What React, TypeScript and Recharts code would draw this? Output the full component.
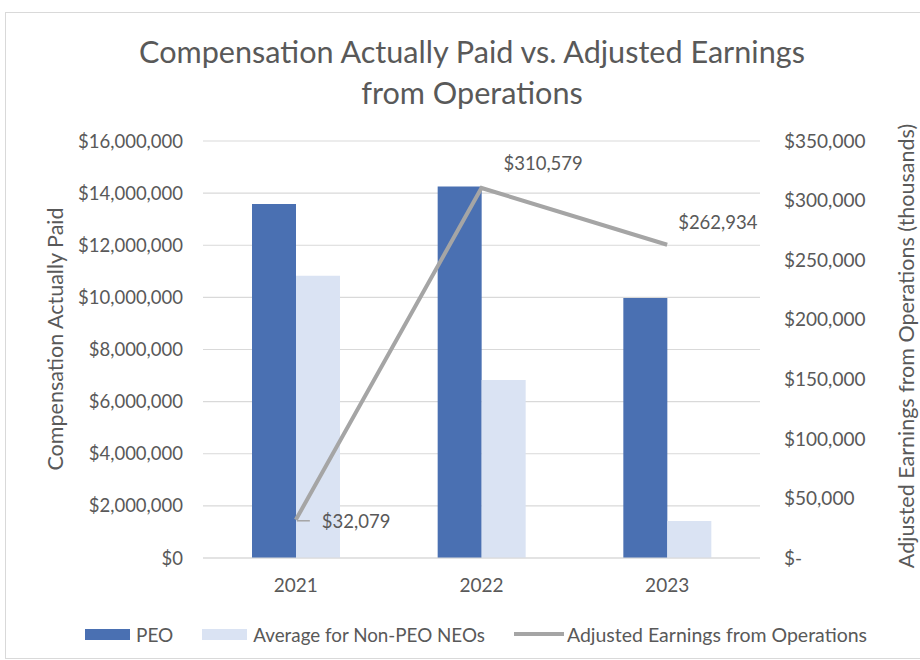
import {
  ComposedChart,
  Bar,
  Line,
  XAxis,
  YAxis,
  CartesianGrid,
  LabelList,
} from "recharts";

const years = ["2021", "2022", "2023"];
const peoPay = [13580000, 14250000, 9980000];
const nonPeoPay = [10830000, 6830000, 1420000];
const adjustedEarnings = [32079, 310579, 262934];
const leftTicks = [0, 2000000, 4000000, 6000000, 8000000, 10000000, 12000000, 14000000, 16000000];
const rightTicks = [0, 50000, 100000, 150000, 200000, 250000, 300000, 350000];

const data = years.map((year, i) => ({
  year,
  peo: peoPay[i],
  nonPeo: nonPeoPay[i],
  earnings: adjustedEarnings[i],
}));

const FONT = "Lato, 'Open Sans', sans-serif";
const TEXT = "#595959";
const PEO_BLUE = "#4A70B2";
const LIGHT_BLUE = "#DAE3F3";
const LINE_GREY = "#A5A5A5";

const fmtLeft = (v: number) => "$" + v.toLocaleString("en-US");
const fmtRight = (v: number) => (v === 0 ? "$-" : "$" + v.toLocaleString("en-US"));

// data label placement, mimicking the Excel labels
const EarningsLabel = (props: any) => {
  const { x, y, value, index } = props;
  const text = "$" + Number(value).toLocaleString("en-US");
  const style = { fontFamily: FONT, fontSize: 18.5, fill: TEXT };
  if (index === 0) {
    return (
      <g>
        <line x1={x + 1} y1={y + 1} x2={x + 14} y2={y + 1} stroke={LINE_GREY} strokeWidth={1.5} />
        <text x={x + 26} y={y + 1} dominantBaseline="central" style={style}>
          {text}
        </text>
      </g>
    );
  }
  const dx = index === 1 ? 22 : 11;
  const dy = index === 1 ? -25 : -23;
  return (
    <text x={x + dx} y={y + dy} dominantBaseline="central" style={style}>
      {text}
    </text>
  );
};

const LegendItem = ({
  kind,
  color,
  label,
  size,
}: {
  kind: "box" | "line";
  color: string;
  label: string;
  size: number;
}) => (
  <div style={{ display: "flex", alignItems: "center", marginRight: kind === "box" ? 29 : 0 }}>
    {kind === "box" ? (
      <div style={{ width: 45, height: 11, background: color, marginRight: 6 }} />
    ) : (
      <div style={{ width: 50, height: 4, background: color, marginRight: 3 }} />
    )}
    <span style={{ fontSize: size }}>{label}</span>
  </div>
);

export default function App() {
  return (
    <div
      style={{
        position: "absolute",
        left: 0,
        top: 0,
        width: 920,
        height: 660,
        overflow: "hidden",
        background: "#fff",
        fontFamily: FONT,
        color: TEXT,
      }}
    >
      <div
        style={{
          position: "absolute",
          left: 5,
          top: 12,
          width: 940,
          height: 645,
          border: "1px solid #D9D9D9",
        }}
      />
      <div
        style={{
          position: "absolute",
          left: 5,
          top: 31,
          width: 934,
          textAlign: "center",
          fontSize: 30.6,
          lineHeight: "41px",
        }}
      >
        Compensation Actually Paid vs. Adjusted Earnings
        <br />
        from Operations
      </div>

      <ComposedChart
        width={920}
        height={660}
        data={data}
        margin={{ top: 141, right: 0, bottom: 62, left: 0 }}
        barGap={0}
      >
        <CartesianGrid yAxisId="left" vertical={false} stroke="#D9D9D9" strokeWidth={1.2} />
        <XAxis
          dataKey="year"
          height={40}
          tickLine={false}
          tickSize={0}
          tickMargin={21}
          axisLine={{ stroke: "#D9D9D9", strokeWidth: 1.2 }}
          tick={{ fill: TEXT, fontSize: 19, fontFamily: FONT }}
        />
        <YAxis
          yAxisId="left"
          width={203}
          domain={[0, 16000000]}
          ticks={leftTicks}
          tickFormatter={fmtLeft}
          axisLine={false}
          tickLine={false}
          tickSize={0}
          tickMargin={20}
          interval={0}
          tick={{ fill: TEXT, fontSize: 18.5, fontFamily: FONT }}
        />
        <YAxis
          yAxisId="right"
          orientation="right"
          width={160}
          domain={[0, 350000]}
          ticks={rightTicks}
          tickFormatter={fmtRight}
          axisLine={false}
          tickLine={false}
          tickSize={0}
          tickMargin={24}
          interval={0}
          tick={{ fill: TEXT, fontSize: 19, fontFamily: FONT }}
        />
        <Bar yAxisId="left" dataKey="peo" name="PEO" fill={PEO_BLUE} barSize={44} isAnimationActive={false} />
        <Bar
          yAxisId="left"
          dataKey="nonPeo"
          name="Average for Non-PEO NEOs"
          fill={LIGHT_BLUE}
          barSize={44}
          isAnimationActive={false}
        />
        <Line
          yAxisId="right"
          type="linear"
          dataKey="earnings"
          name="Adjusted Earnings from Operations"
          stroke={LINE_GREY}
          strokeWidth={4}
          dot={false}
          isAnimationActive={false}
        >
          <LabelList dataKey="earnings" content={EarningsLabel} />
        </Line>
      </ComposedChart>

      <div
        style={{
          position: "absolute",
          left: 55,
          top: 339,
          transform: "translate(-50%, -50%) rotate(-90deg)",
          whiteSpace: "nowrap",
          fontSize: 21.5,
        }}
      >
        Compensation Actually Paid
      </div>
      <div
        style={{
          position: "absolute",
          left: 906,
          top: 346,
          transform: "translate(-50%, -50%) rotate(-90deg)",
          whiteSpace: "nowrap",
          fontSize: 21.5,
        }}
      >
        Adjusted Earnings from Operations (thousands)
      </div>

      <div
        style={{
          position: "absolute",
          left: 85,
          top: 622,
          height: 24,
          display: "flex",
          alignItems: "center",
          whiteSpace: "nowrap",
        }}
      >
        <LegendItem kind="box" color={PEO_BLUE} label="PEO" size={19} />
        <LegendItem kind="box" color={LIGHT_BLUE} label="Average for Non-PEO NEOs" size={18.8} />
        <LegendItem kind="line" color={LINE_GREY} label="Adjusted Earnings from Operations" size={19.5} />
      </div>
    </div>
  );
}
